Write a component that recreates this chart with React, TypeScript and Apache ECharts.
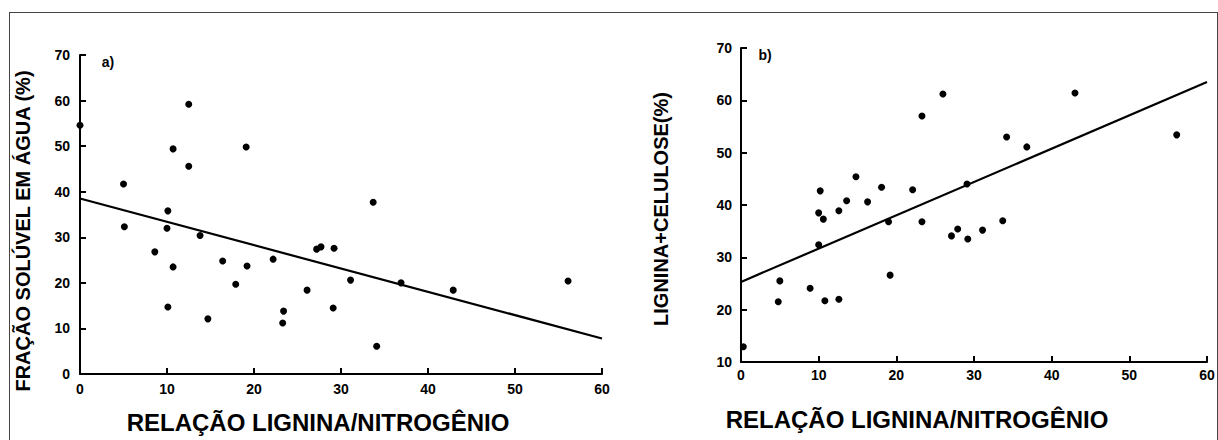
import React, { useEffect, useRef } from "react";
import * as echarts from "echarts";

// Panel a) – water-soluble fraction vs lignin/nitrogen ratio
const ratioA = [0, 5, 5.1, 8.6, 10, 10.1, 10.1, 10.7, 10.7, 12.5, 12.5, 13.8, 14.7, 16.4, 17.9, 19.1, 19.2, 22.2, 23.3, 23.4, 26.1, 27.2, 27.7, 29.1, 29.2, 31.1, 33.7, 34.1, 36.9, 42.9, 56.1];
const solubleA = [54.6, 41.7, 32.3, 26.8, 32.0, 35.8, 14.7, 49.4, 23.5, 59.2, 45.6, 30.4, 12.1, 24.8, 19.7, 49.8, 23.7, 25.2, 11.2, 13.8, 18.4, 27.4, 27.9, 14.5, 27.6, 20.6, 37.7, 6.1, 20.0, 18.4, 20.4];
const fitA = [[0, 38.5], [60, 7.8]];

// Panel b) – lignin+cellulose vs lignin/nitrogen ratio
const ratioB = [0.3, 4.8, 5.0, 8.9, 10.0, 10.0, 10.2, 10.6, 10.8, 12.6, 12.6, 13.6, 14.8, 16.3, 18.1, 19.0, 19.2, 22.1, 23.3, 23.3, 26.0, 27.1, 27.9, 29.1, 29.2, 31.1, 33.7, 34.2, 36.8, 43.0, 56.1];
const ligCelB = [12.9, 21.5, 25.5, 24.1, 32.4, 38.5, 42.7, 37.3, 21.7, 22.0, 38.9, 40.8, 45.4, 40.6, 43.4, 36.8, 26.6, 42.9, 36.8, 57.0, 61.2, 34.1, 35.4, 44.0, 33.5, 35.2, 37.0, 53.0, 51.1, 61.4, 53.4];
const fitB = [[0, 25.3], [60, 63.5]];

const xTicks = [0, 10, 20, 30, 40, 50, 60];
const yTicksA = [0, 10, 20, 30, 40, 50, 60, 70];
const yTicksB = [10, 20, 30, 40, 50, 60, 70];

const FONT = "'Liberation Sans', Arial, sans-serif";

export default function App() {
  const ref = useRef<HTMLDivElement>(null);
  useEffect(() => {
    if (!ref.current) return;
    const chart = echarts.init(ref.current, undefined, { renderer: "svg" });

    const ax = (gi: number, ticks: number[], margin: number) => ({
      type: "value",
      gridIndex: gi,
      min: ticks[0],
      max: ticks[ticks.length - 1],
      interval: 10,
      splitLine: { show: false },
      axisLine: { show: true, lineStyle: { color: "black", width: 2 } },
      axisTick: { show: true, inside: true, length: 6, lineStyle: { color: "black", width: 2 } },
      axisLabel: { color: "#000", fontWeight: "bold", fontSize: 14, margin },
    });

    const titleStyle = (text: string, size: number) => ({
      text,
      font: `bold ${size}px ${FONT}`,
      fill: "#000",
      align: "center",
      verticalAlign: "middle",
    });

    chart.setOption({
      animation: false,
      grid: [
        { left: 80, top: 55, width: 522, height: 319 },
        { left: 741, top: 48, width: 466, height: 314 },
      ],
      xAxis: [ax(0, xTicks, 8), ax(1, xTicks, 6)],
      yAxis: [ax(0, yTicksA, 10), ax(1, yTicksB, 9)],
      series: [
        {
          type: "scatter",
          xAxisIndex: 0,
          yAxisIndex: 0,
          data: ratioA.map((x, i) => [x, solubleA[i]]),
          symbolSize: 7,
          itemStyle: { color: "#000", opacity: 1 },
        },
        {
          type: "line",
          xAxisIndex: 0,
          yAxisIndex: 0,
          data: fitA,
          showSymbol: false,
          lineStyle: { color: "#000", width: 2.2 },
        },
        {
          type: "scatter",
          xAxisIndex: 1,
          yAxisIndex: 1,
          data: ratioB.map((x, i) => [x, ligCelB[i]]),
          symbolSize: 7,
          itemStyle: { color: "#000", opacity: 1 },
        },
        {
          type: "line",
          xAxisIndex: 1,
          yAxisIndex: 1,
          data: fitB,
          showSymbol: false,
          lineStyle: { color: "#000", width: 2.2 },
        },
      ],
      graphic: [
        { type: "text", x: 318, y: 422, style: titleStyle("RELAÇÃO LIGNINA/NITROGÊNIO", 24) },
        { type: "text", x: 917, y: 419, style: titleStyle("RELAÇÃO LIGNINA/NITROGÊNIO", 24) },
        { type: "text", x: 23, y: 231, rotation: Math.PI / 2, style: titleStyle("FRAÇÃO SOLÚVEL EM ÁGUA (%)", 20) },
        { type: "text", x: 661, y: 209, rotation: Math.PI / 2, style: titleStyle("LIGNINA+CELULOSE(%)", 20) },
        { type: "text", x: 108, y: 62, style: titleStyle("a)", 14) },
        { type: "text", x: 765, y: 55, style: titleStyle("b)", 14) },
      ],
    });
    return () => chart.dispose();
  }, []);
  return (
    <div style={{ position: "absolute", left: 0, top: 0, width: 1218, height: 440, background: "#fff", overflow: "hidden" }}>
      <div
        style={{
          position: "absolute",
          left: 9,
          top: 12,
          width: 1207,
          height: 440,
          borderTop: "1.5px solid #444",
          borderLeft: "1.5px solid #444",
          borderRight: "1.5px solid #444",
        }}
      />
      <div ref={ref} style={{ position: "absolute", left: 0, top: 0, width: 1218, height: 440 }} />
    </div>
  );
}
